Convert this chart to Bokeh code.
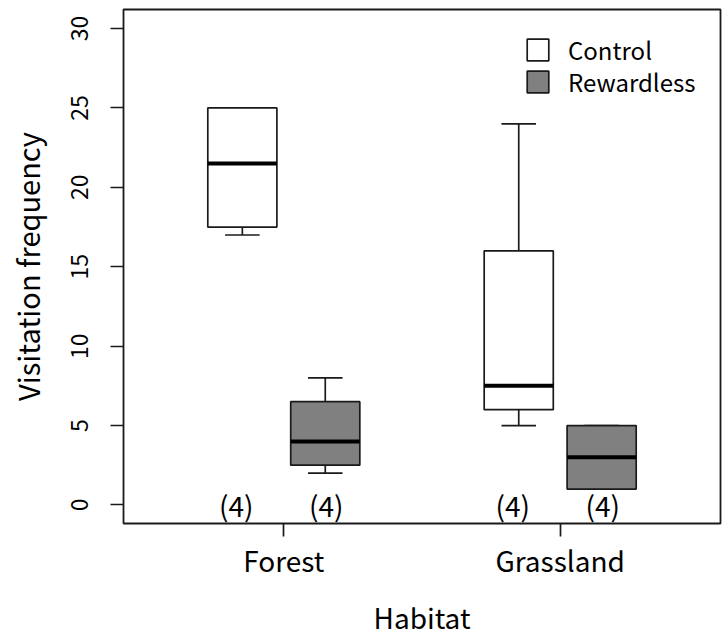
import numpy as np
from bokeh.plotting import figure
from bokeh.models import ColumnDataSource, FixedTicker, Legend, LegendItem, Range1d
from bokeh.core.properties import value
from bokeh.embed import file_html
from bokeh.resources import INLINE

# ---- data ----
habitats = ["Forest", "Grassland"]
treatments = ["Control", "Rewardless"]
control_min = [17, 5]
control_q1 = [17.5, 6]
control_med = [21.5, 7.5]
control_q3 = [25, 16]
control_max = [25, 24]
rewardless_min = [2, 1]
rewardless_q1 = [2.5, 1]
rewardless_med = [4, 3]
rewardless_q3 = [6.5, 5]
rewardless_max = [8, 5]
n_control = [4, 4]
n_rewardless = [4, 4]
y_ticks = [0, 5, 10, 15, 20, 25, 30]

FONT = "Noto Sans CJK JP"
INK = "#1a1a1a"
group_pos = np.arange(1, len(habitats) + 1)
offset = 0.15
box_w = 0.25
cap_w = 0.125
FRAME_W, FRAME_H = 597, 518

p = figure(width=724, height=639, x_range=Range1d(0.42, 2.58), y_range=Range1d(-1.17, 31.2),
           output_backend="svg", toolbar_location=None,
           min_border_left=123, min_border_right=4, min_border_top=9, min_border_bottom=112)
p.xgrid.visible = False
p.ygrid.visible = False
p.background_fill_color = "white"
p.border_fill_color = "white"
p.outline_line_color = INK
p.outline_line_width = 1.8

def draw_group(xs, mn, q1, md, q3, mx, fill):
    xs = np.asarray(xs, dtype=float)
    src = ColumnDataSource(dict(
        x=xs, mn=mn, q1=q1, md=md, q3=q3, mx=mx,
        left=xs - box_w / 2, right=xs + box_w / 2,
        cl=xs - cap_w / 2, cr=xs + cap_w / 2))
    kw = dict(source=src, line_color=INK, line_width=1.7)
    p.segment(x0="x", y0="q3", x1="x", y1="mx", **kw)
    p.segment(x0="x", y0="q1", x1="x", y1="mn", **kw)
    p.segment(x0="cl", y0="mx", x1="cr", y1="mx", **kw)
    p.segment(x0="cl", y0="mn", x1="cr", y1="mn", **kw)
    r = p.quad(left="left", right="right", bottom="q1", top="q3", source=src,
               fill_color=fill, line_color=INK, line_width=1.7)
    p.segment(x0="left", y0="md", x1="right", y1="md", source=src, line_color="black", line_width=4)
    return r

r_ctrl = draw_group(group_pos - offset, control_min, control_q1, control_med, control_q3, control_max, "white")
r_rew = draw_group(group_pos + offset, rewardless_min, rewardless_q1, rewardless_med, rewardless_q3, rewardless_max, "#808080")

# sample sizes
p.text(x=list(group_pos - offset), y=[0, 0], text=[f"({k})" for k in n_control],
       text_font=value(FONT), text_font_size="28px", text_align="center",
       text_baseline="middle", x_offset=-6, y_offset=0, text_color="black")
p.text(x=list(group_pos + offset), y=[0, 0], text=[f"({k})" for k in n_rewardless],
       text_font=value(FONT), text_font_size="28px", text_align="center",
       text_baseline="middle", x_offset=1, y_offset=0, text_color="black")

# axes
xa = p.xaxis[0]
xa.ticker = FixedTicker(ticks=list(group_pos))
xa.major_label_overrides = {int(g): h for g, h in zip(group_pos, habitats)}
xa.axis_label = "Habitat"
ya = p.yaxis[0]
ya.ticker = FixedTicker(ticks=y_ticks)
ya.axis_label = "Visitation frequency"
ya.major_label_orientation = "vertical"
for ax in (xa, ya):
    ax.axis_line_color = None
    ax.major_tick_line_color = INK
    ax.major_tick_line_width = 1.7
    ax.major_tick_out = 13
    ax.major_tick_in = 0
    ax.minor_tick_line_color = None
    ax.major_label_text_font = FONT
    ax.axis_label_text_font = FONT
    ax.axis_label_text_font_style = "normal"
    ax.major_label_text_color = "black"
    ax.axis_label_text_color = "black"
xa.major_label_text_font_size = "28px"
xa.axis_label_text_font_size = "28px"
ya.major_label_text_font_size = "23px"
ya.axis_label_text_font_size = "29px"
xa.major_label_standoff = 3
xa.axis_label_standoff = 14
ya.major_label_standoff = 22
ya.axis_label_standoff = 21

H = 35
leg_common = dict(padding=0, margin=0, spacing=0, glyph_width=27, glyph_height=27,
                  label_text_font=FONT, label_text_font_size="24px", label_standoff=17,
                  label_text_color="black",
                  border_line_color=None, background_fill_alpha=0)
leg1 = Legend(items=[LegendItem(label=treatments[0], renderers=[r_ctrl])],
              location=(401, int(FRAME_H - 27 - H)), **leg_common)
leg2 = Legend(items=[LegendItem(label=treatments[1], renderers=[r_rew])],
              location=(401, int(FRAME_H - 59 - H)), **leg_common)
p.add_layout(leg1)
p.add_layout(leg2)

open("out.html", "w").write(file_html(p, INLINE))
